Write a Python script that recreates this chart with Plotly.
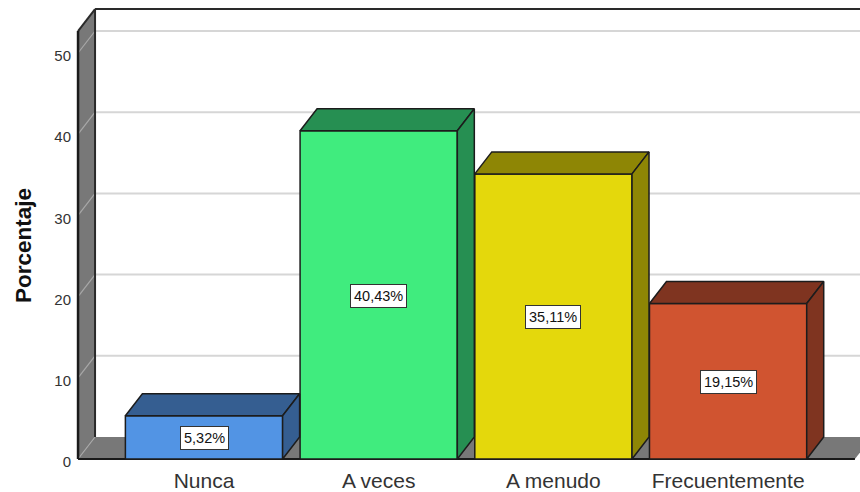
import plotly.graph_objects as go

categories = ["Nunca", "A veces", "A menudo", "Frecuentemente"]
percentages = [5.32, 40.43, 35.11, 19.15]
value_labels = ["5,32%", "40,43%", "35,11%", "19,15%"]
y_ticks = [0, 10, 20, 30, 40, 50]
axis_title = "Porcentaje"
front_colors = ["#5294E4", "#40EC7E", "#E4D80C", "#D05430"]
shade_colors = ["#355E91", "#268F52", "#8E8605", "#7F3420"]

WALL = "#787878"
GRID = "#D6D6D6"
EDGE = "#1C1C1C"
BAR_W = 0.9
DX = 17 / 174.7      # 3-D depth in x units
DY = 22 / 8.12       # 3-D depth in y units
X_LEFT = -0.721
X_RIGHT = 3.726
Y_TOP = 52.7
Y_MIN, Y_MAX = -2 / 8.12, 452 / 8.12
X_MIN, X_MAX = (76 - 204) / 174.7, (860 - 204) / 174.7


def path(points):
    return "M " + " L ".join(f"{x},{y}" for x, y in points) + " Z"


shapes = []


def add_poly(points, fill, line="rgba(0,0,0,0)", width=0):
    shapes.append(dict(type="path", path=path(points), xref="x", yref="y", layer="below",
                       fillcolor=fill, line=dict(color=line, width=width)))


def add_line(x0, y0, x1, y1, color, width):
    shapes.append(dict(type="line", x0=x0, y0=y0, x1=x1, y1=y1, xref="x", yref="y",
                       layer="below", line=dict(color=color, width=width)))


# walls and floor
add_poly([(X_LEFT, 0), (X_LEFT, Y_TOP), (X_LEFT + DX, Y_TOP + DY), (X_LEFT + DX, DY)], WALL)
add_poly([(X_LEFT, 0), (X_LEFT + DX, DY), (X_RIGHT + DX, DY), (X_RIGHT, 0)], WALL)
# gridlines
for t in y_ticks:
    add_line(X_LEFT, t, X_LEFT + DX, t + DY, "#A8A8A8", 1.2)
    if t > 0:
        add_line(X_LEFT + DX, t + DY, X_MAX, t + DY, GRID, 2)
# frame
add_line(X_LEFT + DX, Y_TOP + DY, X_MAX, Y_TOP + DY, "#2A2A2A", 2)
add_line(X_LEFT + DX, DY, X_LEFT + DX, Y_TOP + DY, "#2A2A2A", 2)
add_line(X_LEFT, Y_TOP, X_LEFT + DX, Y_TOP + DY, "#2A2A2A", 2)
add_line(X_LEFT, 0, X_LEFT, Y_TOP, "#1A1A1A", 2.5)
add_line(X_LEFT, 0, X_RIGHT, 0, "#1A1A1A", 2)

xs = list(range(len(categories)))
fig = go.Figure()
fig.add_trace(go.Bar(x=xs, y=percentages, width=BAR_W, marker=dict(color=front_colors,
                     line=dict(color=EDGE, width=1.5)), hoverinfo="skip", showlegend=False))

for x, v, c in zip(xs, percentages, shade_colors):
    l, r = x - BAR_W / 2, x + BAR_W / 2
    fig.add_trace(go.Scatter(x=[l, l + DX, r + DX, r, l], y=[v, v + DY, v + DY, v, v],
                             mode="lines", fill="toself", fillcolor=c,
                             line=dict(color=EDGE, width=1.5), hoverinfo="skip", showlegend=False))
    fig.add_trace(go.Scatter(x=[r, r + DX, r + DX, r, r], y=[v, v + DY, DY, 0, v],
                             mode="lines", fill="toself", fillcolor=c,
                             line=dict(color=EDGE, width=1.5), hoverinfo="skip", showlegend=False))

annotations = [dict(x=x, y=v / 2, yshift=-1, text=t, showarrow=False, xref="x", yref="y",
                    font=dict(family="Liberation Sans", size=14.5, color="#111111"),
                    bgcolor="white", bordercolor="#333333", borderwidth=1, borderpad=3)
               for x, v, t in zip(xs, percentages, value_labels)]
annotations.append(dict(x=(23 - 76) / 784, y=(459 - 245) / 8.12, xref="paper", yref="y",
                        xanchor="center", yanchor="middle",
                        text=f"<b>{axis_title}</b>", textangle=-90, showarrow=False,
                        font=dict(family="Liberation Sans", size=22.5, color="#111111")))

fig.update_layout(
    width=860, height=492, margin=dict(l=76, r=0, t=7, b=31),
    paper_bgcolor="white", plot_bgcolor="white", showlegend=False,
    shapes=shapes, annotations=annotations,
    font=dict(family="Liberation Sans", color="#333333"),
    xaxis=dict(range=[X_MIN, X_MAX], tickmode="array", tickvals=xs, ticktext=categories,
               showgrid=False, zeroline=False, showline=False, ticks="", ticklabelstandoff=5,
               tickfont=dict(size=21, color="#333333")),
    yaxis=dict(range=[Y_MIN, Y_MAX], tickmode="array", tickvals=y_ticks,
               showgrid=False, zeroline=False, showline=False, ticks="",
               ticklabelstandoff=4, ticklabelshift=3,
               tickfont=dict(size=15, color="#333333")),
)
fig.write_html("out.html", config={"displayModeBar": False},
               post_script="document.body.style.margin='0';document.body.style.overflow='hidden';")
